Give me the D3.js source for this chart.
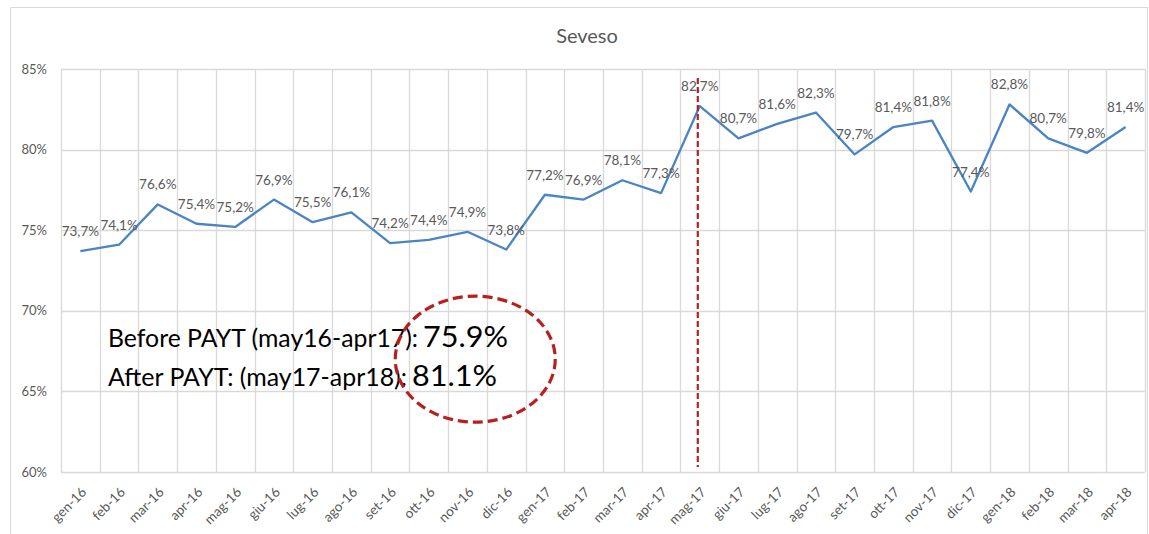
<!DOCTYPE html>
<html>
<head>
<meta charset="utf-8">
<script src="https://cdn.jsdelivr.net/npm/d3@7"></script>
<style>
  body { margin: 0; background: #fff; }
  svg { display: block; font-family: Lato, "Open Sans", sans-serif; }
</style>
</head>
<body>
<div id="chart"></div>
<script>
var months = ["gen-16", "feb-16", "mar-16", "apr-16", "mag-16", "giu-16", "lug-16", "ago-16",
    "set-16", "ott-16", "nov-16", "dic-16", "gen-17", "feb-17", "mar-17", "apr-17",
    "mag-17", "giu-17", "lug-17", "ago-17", "set-17", "ott-17", "nov-17", "dic-17",
    "gen-18", "feb-18", "mar-18", "apr-18"];
var values = [73.7, 74.1, 76.6, 75.4, 75.2, 76.9, 75.5, 76.1, 74.2, 74.4, 74.9, 73.8,
    77.2, 76.9, 78.1, 77.3, 82.7, 80.7, 81.6, 82.3, 79.7, 81.4, 81.8, 77.4,
    82.8, 80.7, 79.8, 81.4];
var yTicks = [60, 65, 70, 75, 80, 85];
var title = "Seveso";
var paytStart = "mag-17";
var noteLabels = ["Before PAYT (may16-apr17):", "After PAYT: (may17-apr18):"];
var noteValues = ["75.9%", "81.1%"];

var size = { width: 1149, height: 534 };
var plot = { left: 61, right: 1145, top: 69, bottom: 472 };
var gridColor = "#d9d9d9";
var textColor = "#595959";
var lineColor = "#4a84c4";
var redColor = "#b81f1f";

var svg = d3.select("#chart").append("svg")
    .attr("width", size.width)
    .attr("height", size.height);

// Chart area border
svg.append("path")
    .attr("d", "M10.5," + size.height + "V7.5H1147.5V" + size.height)
    .attr("fill", "none")
    .attr("stroke", gridColor);

svg.append("text")
    .attr("x", 587)
    .attr("y", 43)
    .attr("text-anchor", "middle")
    .attr("font-size", 20)
    .attr("fill", textColor)
    .text(title);

var x = d3.scaleBand()
    .domain(months)
    .range([plot.left, plot.right])
    .padding(0);

var y = d3.scaleLinear()
    .domain([60, 85])
    .range([plot.bottom, plot.top]);

var cx = (d) => x(d) + x.bandwidth() / 2;

// Gridlines
var grid = svg.append("g").attr("class", "grid");
grid.selectAll(".h")
    .data(yTicks)
    .enter().append("line")
    .attr("x1", plot.left).attr("x2", plot.right)
    .attr("y1", (d) => Math.round(y(d)) + 0.5)
    .attr("y2", (d) => Math.round(y(d)) + 0.5)
    .attr("stroke", gridColor)
    .attr("stroke-width", 1.3);

grid.selectAll(".v")
    .data(months.concat(["end"]))
    .enter().append("line")
    .attr("x1", (d, i) => Math.round(plot.left + i * x.bandwidth()) + 0.5)
    .attr("x2", (d, i) => Math.round(plot.left + i * x.bandwidth()) + 0.5)
    .attr("y1", plot.top).attr("y2", plot.bottom)
    .attr("stroke", gridColor)
    .attr("stroke-width", 1.3);

// Y axis labels
svg.append("g").selectAll("text")
    .data(yTicks)
    .enter().append("text")
    .attr("x", 47)
    .attr("y", (d) => y(d) + 4.5)
    .attr("text-anchor", "end")
    .attr("font-size", 13)
    .attr("fill", textColor)
    .text((d) => d + "%");

// X axis labels
svg.append("g").selectAll("text")
    .data(months)
    .enter().append("text")
    .attr("transform", (d) => "translate(" + (cx(d) + 7) + "," + (plot.bottom + 21) + ") rotate(-45)")
    .attr("text-anchor", "end")
    .attr("font-size", 13.5)
    .attr("fill", textColor)
    .text((d) => d);

// Series line
var line = d3.line()
    .x((d, i) => cx(months[i]))
    .y((d) => y(d));

svg.append("path")
    .datum(values)
    .attr("d", line)
    .attr("fill", "none")
    .attr("stroke", lineColor)
    .attr("stroke-width", 2.3)
    .attr("stroke-linejoin", "round");

// Data labels
var fmt = (v) => v.toFixed(1).replace(".", ",") + "%";
svg.append("g").selectAll("text")
    .data(values)
    .enter().append("text")
    .attr("x", (d, i) => cx(months[i]))
    .attr("y", (d) => y(d) - 15)
    .attr("text-anchor", "middle")
    .attr("font-size", 13.5)
    .attr("fill", textColor)
    .text(fmt);

// PAYT start marker
svg.append("line")
    .attr("x1", cx(paytStart) - 2).attr("x2", cx(paytStart) - 2)
    .attr("y1", 78).attr("y2", 467)
    .attr("stroke", redColor)
    .attr("stroke-width", 2.2)
    .attr("stroke-dasharray", "6,3");

// Annotation text
var noteY = [y(67.75), y(65.35)];
var labelLen = [310, 299];
var valueX = [423, 412];
var notesG = svg.append("g").attr("fill", "#000");
noteLabels.forEach((n, i) => {
    notesG.append("text")
        .attr("x", 108)
        .attr("y", noteY[i])
        .attr("font-size", 24.5)
        .attr("textLength", labelLen[i])
        .attr("lengthAdjust", "spacingAndGlyphs")
        .text(n);
    notesG.append("text")
        .attr("x", valueX[i])
        .attr("y", noteY[i])
        .attr("font-size", 29)
        .attr("textLength", 85)
        .attr("lengthAdjust", "spacingAndGlyphs")
        .text(noteValues[i]);
});

// Highlight ellipse
svg.append("ellipse")
    .attr("cx", x("nov-16") + x.bandwidth() * 0.7)
    .attr("cy", y(67.0))
    .attr("rx", 80)
    .attr("ry", 63)
    .attr("fill", "none")
    .attr("stroke", redColor)
    .attr("stroke-width", 3.2)
    .attr("stroke-dasharray", "10,5");
</script>
</body>
</html>
